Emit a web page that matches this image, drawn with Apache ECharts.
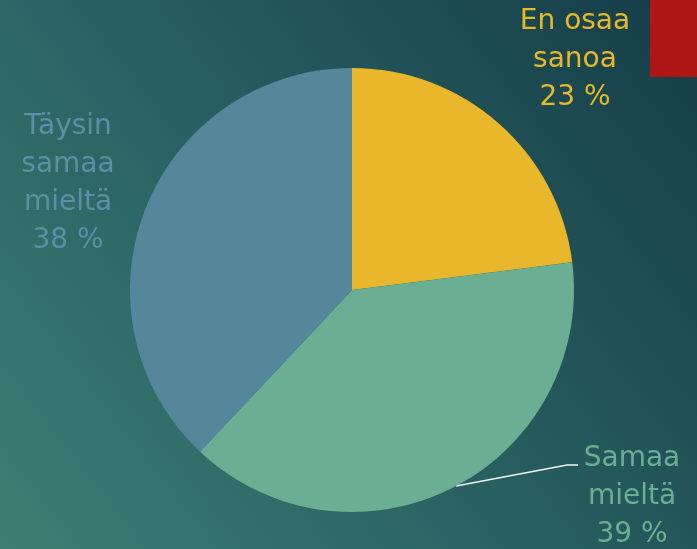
<!DOCTYPE html>
<html>
<head>
<meta charset="utf-8">
<script src="https://cdn.jsdelivr.net/npm/echarts@6/dist/echarts.min.js"></script>
<style>
  html, body { margin: 0; padding: 0; }
  #chart { width: 697px; height: 549px; }
</style>
</head>
<body>
<div id="chart"></div>
<script>
const categories = ['En osaa\nsanoa', 'Samaa\nmieltä', 'Täysin\nsamaa\nmieltä'];
const values = [23, 39, 38];
const sliceColors = ['#e8b72b', '#6aae93', '#55879b'];
const labelColors = ['#e6b82c', '#6aae93', '#5b8fa5'];

// label anchor points (px) for each slice
const labelPos = [
    { x: 575, y: 60 },
    { x: 632, y: 497 },
    { x: 68, y: 184 },
];

const chart = echarts.init(document.getElementById('chart'), null, { renderer: 'canvas' });
chart.setOption({
    backgroundColor: {
        type: 'linear', x: 0, y: 1, x2: 1, y2: 0,
        colorStops: [
            { offset: 0, color: '#3c7e74' },
            { offset: 0.5, color: '#275e60' },
            { offset: 1, color: '#153c47' },
        ],
    },
    animation: false,
    graphic: [{
        type: 'rect',
        shape: { x: 650, y: 0, width: 47, height: 77 },
        style: { fill: '#b01515' },
    }],
    series: [{
        type: 'pie',
        center: [352, 290],
        radius: 222,
        startAngle: 90,
        clockwise: true,
        data: categories.map((name, i) => ({
            name,
            value: values[i],
            itemStyle: { color: sliceColors[i] },
            label: { color: labelColors[i] },
            labelLine: { show: i === 1 },
        })),
        label: {
            show: true,
            position: 'outside',
            formatter: p => p.name + '\n' + p.value + ' %',
            fontFamily: '"DejaVu Sans", sans-serif',
            fontWeight: 'normal',
            fontSize: 28,
            lineHeight: 38,
            align: 'center',
            overflow: 'none',
        },
        labelLine: {
            show: true,
            lineStyle: { color: '#f2f2f2', width: 1.5 },
        },
        labelLayout: params => {
            const p = labelPos[params.dataIndex];
            const out = { x: p.x, y: p.y, align: 'center', verticalAlign: 'middle' };
            if (params.dataIndex === 1) {
                out.labelLinePoints = [[456, 486], [567, 465], [578, 465]];
            }
            return out;
        },
    }],
});
</script>
</body>
</html>
